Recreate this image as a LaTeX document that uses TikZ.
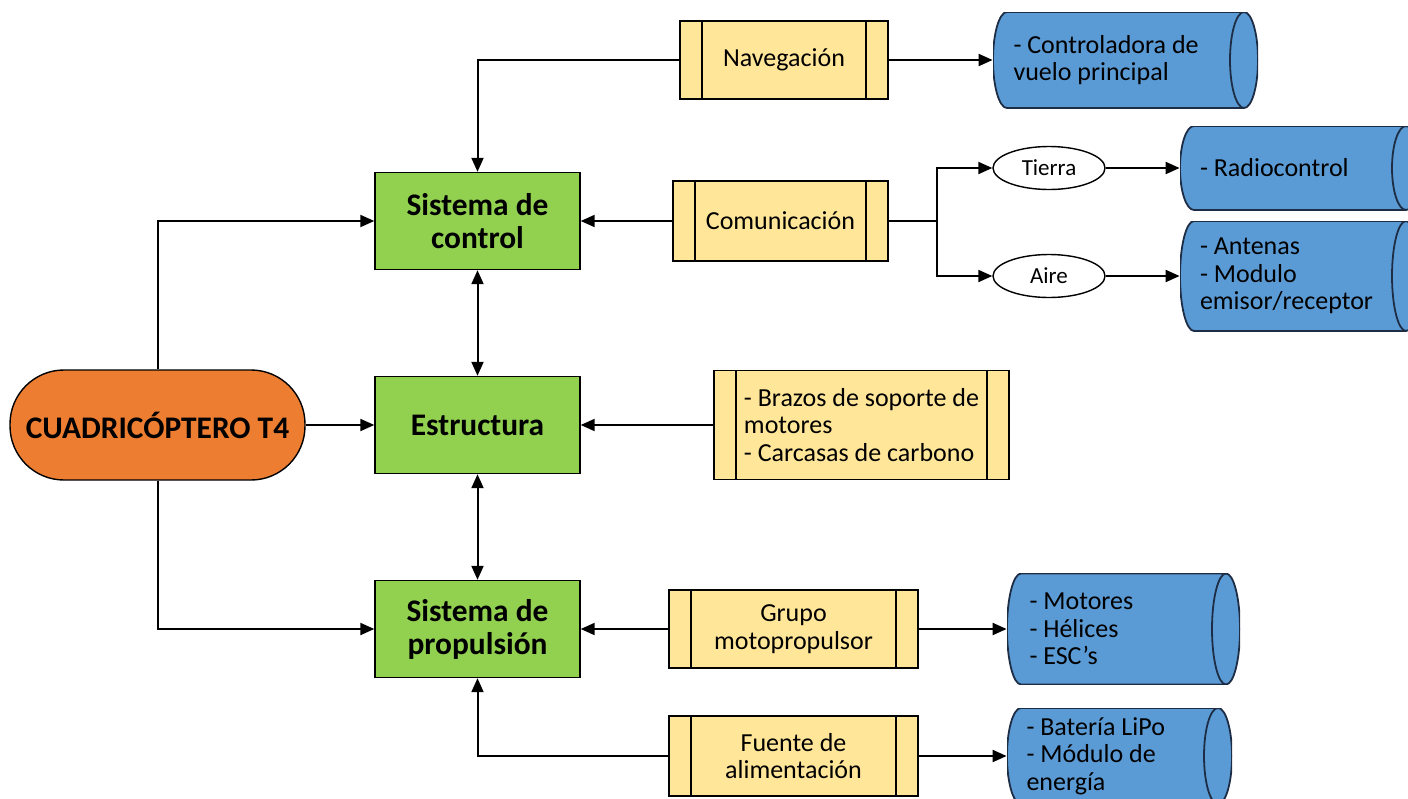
\documentclass[tikz,border=0pt]{standalone}
\usepackage{fontspec}
\setmainfont{Carlito}
\definecolor{fcgreen}{RGB}{146,208,80}
\definecolor{fcorange}{RGB}{237,125,49}
\definecolor{fcyellow}{RGB}{255,230,153}
\definecolor{fcblue}{RGB}{91,155,213}
\definecolor{fcedge}{RGB}{30,45,70}
\usetikzlibrary{arrows.meta,shapes.geometric,calc}

\tikzset{
  sysbox/.style={draw,fill=fcgreen,line width=0.7pt,minimum width=102.5pt,minimum height=48.5pt,
    align=center,font=\fontsize{15.7}{16.5}\selectfont\bfseries},
  mainterm/.style={draw,fill=fcorange,line width=0.7pt,rounded corners=27pt,minimum width=147.5pt,
    minimum height=55pt,font=\fontsize{15.7}{16.5}\selectfont\bfseries},
  procbox/.style={draw,fill=fcyellow,line width=0.7pt,align=center,font=\fontsize{13}{13.7}\selectfont,
    path picture={\draw[line width=0.7pt]
      ([xshift=11pt]path picture bounding box.north west) -- ([xshift=11pt]path picture bounding box.south west)
      ([xshift=-11pt]path picture bounding box.north east) -- ([xshift=-11pt]path picture bounding box.south east);}},
  linkell/.style={draw,fill=white,ellipse,line width=0.7pt,inner sep=0pt,minimum width=56pt,
    minimum height=21.5pt,font=\fontsize{11.5}{13}\selectfont},
  storebox/.style={align=flush left,font=\fontsize{13}{13.7}\selectfont,
    path picture={
      \path let \p1=(path picture bounding box.north east), \p2=(path picture bounding box.south west),
        \n1={(\y1-\y2)/2} in
        [fill=fcblue] (\x2+7pt,\y1) -- (\x1-7pt,\y1) arc[start angle=90,end angle=-90,x radius=7pt,y radius=\n1]
          -- (\x2+7pt,\y2) arc[start angle=270,end angle=90,x radius=7pt,y radius=\n1] -- cycle;
      \path let \p1=(path picture bounding box.north east), \p2=(path picture bounding box.south west),
        \n1={(\y1-\y2)/2} in
        [draw=fcedge,line width=0.9pt] (\x2+7pt,\y1) -- (\x1-7pt,\y1) arc[start angle=90,end angle=-90,x radius=7pt,y radius=\n1]
          -- (\x2+7pt,\y2) arc[start angle=270,end angle=90,x radius=7pt,y radius=\n1] -- cycle
        (\x1-7pt,\y1) arc[start angle=90,end angle=270,x radius=7pt,y radius=\n1];}},
  conn/.style={line width=1pt},
  >={Triangle[length=7pt,width=6pt]}
}

\begin{document}
\begin{tikzpicture}[x=0.5pt,y=-0.5pt]
  \useasboundingbox (0,0) rectangle (1408,798);

  \node[mainterm] (quad) at (157.5,425) {CUADRICÓPTERO T4};

  \node[sysbox] (ctrl) at (477.5,221) {Sistema de\\control};
  \node[sysbox] (estr) at (477.5,425) {Estructura};
  \node[sysbox] (prop) at (477.5,629) {Sistema de\\propulsión};

  \node[procbox,minimum width=104pt,minimum height=39pt] (nav) at (784,60) {Navegación};
  \node[procbox,minimum width=107.5pt,minimum height=40pt] (com) at (780.5,221) {Comunicación};
  \node[procbox,align=left,minimum width=147.5pt,minimum height=54.5pt] (brazos) at (861.5,425)
    {- Brazos de soporte de\\motores\\- Carcasas de carbono};
  \node[procbox,minimum width=124.5pt,minimum height=39pt] (grupo) at (793.5,629) {Grupo\\motopropulsor};
  \node[procbox,minimum width=124.5pt,minimum height=40pt] (fuente) at (793.5,756) {Fuente de\\alimentación};

  \node[linkell] (tierra) at (1049,168) {Tierra};
  \node[linkell] (aire) at (1049,276) {Aire};
  \coordinate (split) at (937,221);

  \node[storebox,minimum width=132.5pt,minimum height=48pt,text width=112pt] (vuelo) at (1125.5,60)
    {- Controladora de\\vuelo principal};
  \node[storebox,minimum width=120pt,minimum height=42pt,text width=100pt] (radio) at (1300,168)
    {- Radiocontrol};
  \node[storebox,minimum width=120pt,minimum height=55pt,text width=100pt] (antenas) at (1300,276)
    {- Antenas\\- Modulo\\emisor/receptor};
  \node[storebox,minimum width=116.5pt,minimum height=55.5pt,text width=94pt] (motores) at (1123.5,629)
    {- Motores\\- Hélices\\- ESC’s};
  \node[storebox,minimum width=112.5pt,minimum height=48pt,text width=93pt] (bateria) at (1119.5,756)
    {- Batería LiPo\\- Módulo de\\energía};

  \draw[conn,->] (quad.north) |- (ctrl.west);
  \draw[conn,->] (quad.east) -- (estr.west);
  \draw[conn,->] (quad.south) |- (prop.west);
  \draw[conn,<->] (ctrl.south) -- (estr.north);
  \draw[conn,<->] (estr.south) -- (prop.north);

  \draw[conn,->] (nav.west) -| (ctrl.north);
  \draw[conn,->] (nav.east) -- (vuelo.west);
  \draw[conn,->] (com.west) -- (ctrl.east);
  \draw[conn] (com.east) -- (split);
  \draw[conn,->] (split) |- (tierra.west);
  \draw[conn,->] (split) |- (aire.west);
  \draw[conn,->] (tierra.east) -- (radio.west);
  \draw[conn,->] (aire.east) -- (antenas.west);
  \draw[conn,->] (brazos.west) -- (estr.east);
  \draw[conn,->] (grupo.west) -- (prop.east);
  \draw[conn,->] (grupo.east) -- (motores.west);
  \draw[conn,->] (fuente.west) -| (prop.south);
  \draw[conn,->] (fuente.east) -- (bateria.west);
\end{tikzpicture}
\end{document}
